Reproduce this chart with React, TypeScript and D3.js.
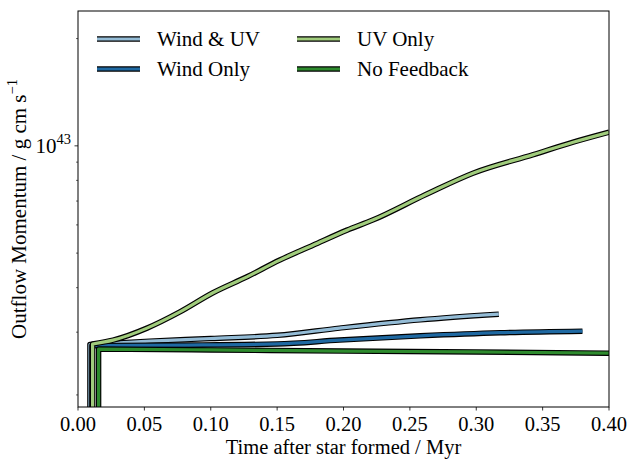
import React from "react";
import * as d3 from "d3";

const W = 630;
const H = 460;
const margin = { top: 11, right: 21, bottom: 53, left: 78 };

const xTicks = [0, 0.05, 0.1, 0.15, 0.2, 0.25, 0.3, 0.35, 0.4];
const yMinorTicks = [2e42, 3e42, 4e42, 5e42, 6e42, 7e42, 8e42, 9e42, 2e43];
const yMajorTicks = [1e43];

// [time (Myr), momentum (g cm/s)]
const windUV: [number, number][] = [
  [0.009, 1e41], [0.009, 2.77e42], [0.054, 2.83e42], [0.1, 2.88e42], [0.15, 2.94e42],
  [0.197, 3.08e42], [0.258, 3.25e42], [0.317, 3.37e42],
];
const windOnly: [number, number][] = [
  [0.0105, 1e41], [0.0105, 2.75e42], [0.077, 2.76e42], [0.15, 2.78e42], [0.197, 2.85e42],
  [0.258, 2.93e42], [0.318, 2.99e42], [0.38, 3.02e42],
];
const uvOnly: [number, number][] = [
  [0.011, 1e41], [0.011, 2.78e42], [0.0264, 2.85e42], [0.052, 3.08e42], [0.0768, 3.42e42],
  [0.1017, 3.87e42], [0.1273, 4.29e42], [0.152, 4.78e42], [0.177, 5.26e42], [0.2026, 5.8e42],
  [0.222, 6.19e42], [0.262, 7.3e42], [0.2975, 8.38e42], [0.343, 9.45e42], [0.373, 1.024e43],
  [0.4, 1.092e43],
];
const noFeedback: [number, number][] = [
  [0.0155, 1e41], [0.0155, 2.69e42], [0.1, 2.675e42], [0.2, 2.655e42], [0.3, 2.64e42], [0.4, 2.62e42],
];

const series = [
  { name: "Wind & UV", data: windUV, color: "#94bcd6" },
  { name: "Wind Only", data: windOnly, color: "#1f69a2" },
  { name: "UV Only", data: uvOnly, color: "#a0cc7c" },
  { name: "No Feedback", data: noFeedback, color: "#2e8b2e" },
];

const FONT = "'Liberation Serif', 'DejaVu Serif', serif";
const FS = 21;

export default function App() {
  const iw = W - margin.left - margin.right;
  const ih = H - margin.top - margin.bottom;
  const x = d3.scaleLinear().domain([0, 0.4]).range([0, iw]);
  const y = d3.scaleLog().domain([1.85e42, 2.39e43]).range([ih, 0]);
  const lineLin = d3.line<[number, number]>().x((d) => x(d[0])).y((d) => y(d[1]));
  const lineSmooth = d3.line<[number, number]>().x((d) => x(d[0])).y((d) => y(d[1])).curve(d3.curveMonotoneX);

  // vertical rise is straight, the rest is drawn smooth; joined into one subpath
  const pathFor = (data: [number, number][]) =>
    (lineLin(data.slice(0, 2)) || "") + (lineSmooth(data.slice(1)) || "").replace(/^M[^A-Za-z]*/, "");

  const legendPos = [
    [19, 28], [19, 58], [219, 28], [219, 58],
  ];

  return (
    <svg width={W} height={H} style={{ position: "absolute", left: 0, top: 0, background: "#fff" }} fontFamily={FONT}>
      <defs>
        <clipPath id="plot-clip">
          <rect x={0} y={0} width={iw} height={ih} />
        </clipPath>
      </defs>
      <g transform={`translate(${margin.left},${margin.top})`}>
        <g clipPath="url(#plot-clip)">
          {series.map((s) => (
            <g key={s.name}>
              <path d={pathFor(s.data)} fill="none" stroke="#000" strokeWidth={5.5} strokeLinejoin="round" />
              <path d={pathFor(s.data)} fill="none" stroke={s.color} strokeWidth={3.2} strokeLinejoin="round" />
            </g>
          ))}
        </g>
        <rect x={0} y={0} width={iw} height={ih} fill="none" stroke="#000" strokeWidth={1} />
        {/* x axis */}
        {xTicks.map((t) => (
          <g key={t} transform={`translate(${x(t)},${ih})`}>
            <line y2={3.5} stroke="#000" strokeWidth={0.8} />
            <text y={24} textAnchor="middle" fontSize={20.5} fill="#000">{t.toFixed(2)}</text>
          </g>
        ))}
        <text x={iw / 2} y={ih + 47} textAnchor="middle" fontSize={20.5} fill="#000">Time after star formed / Myr</text>
        {/* y axis */}
        {yMinorTicks.map((t) => (
          <line key={t} x1={-2} x2={0} y1={y(t)} y2={y(t)} stroke="#000" strokeWidth={0.6} />
        ))}
        {yMajorTicks.map((t) => (
          <g key={t} transform={`translate(0,${y(t)})`}>
            <line x1={-3.5} x2={0} stroke="#000" strokeWidth={0.8} />
            <text x={-7} y={7} textAnchor="end" fontSize={FS} fill="#000">
              10<tspan dy={-9} fontSize={14.5}>{Math.round(Math.log10(t))}</tspan>
            </text>
          </g>
        ))}
        <text transform={`translate(${-52},${ih / 2}) rotate(-90)`} textAnchor="middle" fontSize={FS} fill="#000">
          Outflow Momentum / g cm s<tspan dy={-9} fontSize={14.5}>−1</tspan>
        </text>
        {/* legend */}
        {series.map((s, i) => {
          const [lx, ly] = legendPos[i];
          return (
            <g key={s.name} transform={`translate(${lx},${ly})`}>
              <line x1={0} x2={43} stroke="#000" strokeWidth={5.5} />
              <line x1={0} x2={43} stroke={s.color} strokeWidth={3.2} />
              <text x={60} y={7} fontSize={FS} fill="#000">{s.name}</text>
            </g>
          );
        })}
      </g>
    </svg>
  );
}
